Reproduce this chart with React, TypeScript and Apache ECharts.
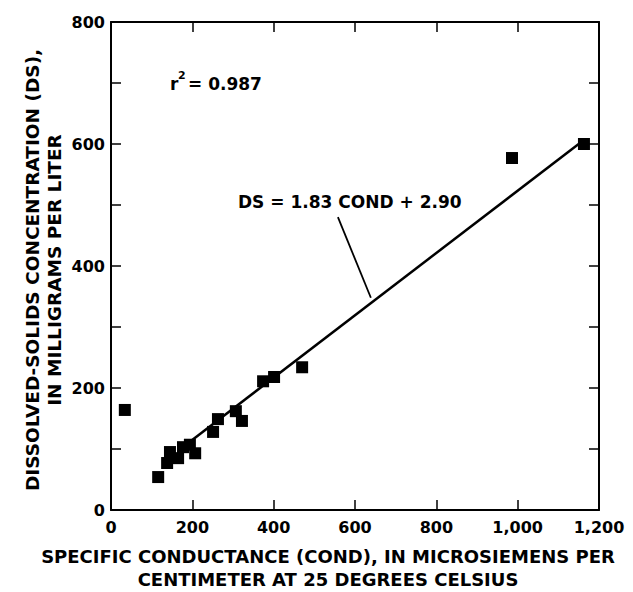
import React, { useEffect, useRef } from 'react';
import * as echarts from 'echarts';

// Specific conductance (COND, µS/cm) and dissolved-solids (DS, mg/L) samples
const condValues = [34, 116, 138, 145, 165, 177, 194, 207, 251, 263, 307, 322, 374, 401, 470, 986, 1163];
const dsValues = [164, 54, 77, 95, 85, 103, 107, 93, 128, 149, 162, 146, 211, 218, 234, 577, 600];

// Regression line end points (as drawn)
const fitCond = [194, 1150];
const fitDs = [112, 600];

// Leader line from the equation label to the regression line
const leaderCond = [558, 639];
const leaderDs = [480, 348];

const xTickValues = [0, 200, 400, 600, 800, 1000, 1200];
const xTickLabels = ['0', '200', '400', '600', '800', '1,000', '1,200'];
const yTickValues = [0, 200, 400, 600, 800];
const yTickLabels = ['0', '200', '400', '600', '800'];

const FONT = '"DejaVu Sans", sans-serif';

export default function App() {
  const ref = useRef<HTMLDivElement>(null);

  useEffect(() => {
    if (!ref.current) return;
    const chart = echarts.init(ref.current, undefined, { renderer: 'svg' });

    const axisLine = { show: true, onZero: false, lineStyle: { color: '#000', width: 2 } };
    const axisTick = { show: true, inside: true, length: 10, lineStyle: { color: '#000', width: 1.5 } };
    const labelStyle = { color: '#000', fontSize: 16, fontWeight: 'bold' as const, fontFamily: FONT };

    const xLabel = (v: number) => {
      const i = xTickValues.indexOf(v);
      return i >= 0 ? xTickLabels[i] : '';
    };
    const yLabel = (v: number) => {
      const i = yTickValues.indexOf(v);
      return i >= 0 ? yTickLabels[i] : '';
    };

    chart.setOption({
      animation: false,
      backgroundColor: '#fff',
      grid: { left: 111, right: 34, top: 22, bottom: 82, containLabel: false },
      xAxis: [
        {
          type: 'value', position: 'bottom', min: 0, max: 1200, interval: 200,
          axisLine, axisTick, splitLine: { show: false },
          axisLabel: { ...labelStyle, margin: 9, formatter: xLabel, showMinLabel: true, showMaxLabel: true },
        },
        {
          type: 'value', position: 'top', min: 0, max: 1200, interval: 200,
          axisLine, axisTick, splitLine: { show: false }, axisLabel: { show: false },
        },
      ],
      yAxis: [
        {
          type: 'value', position: 'left', min: 0, max: 800, interval: 100,
          axisLine, axisTick, splitLine: { show: false },
          axisLabel: { ...labelStyle, margin: 6, formatter: yLabel },
        },
        {
          type: 'value', position: 'right', min: 0, max: 800, interval: 100,
          axisLine, axisTick, splitLine: { show: false }, axisLabel: { show: false },
        },
      ],
      series: [
        {
          type: 'line',
          data: fitCond.map((c, i) => [c, fitDs[i]]),
          symbol: 'none',
          lineStyle: { color: '#000', width: 2.5 },
          silent: true,
          z: 2,
        },
        {
          type: 'line',
          data: leaderCond.map((c, i) => [c, leaderDs[i]]),
          symbol: 'none',
          lineStyle: { color: '#000', width: 1.8 },
          silent: true,
          z: 2,
        },
        {
          type: 'scatter',
          data: condValues.map((c, i) => [c, dsValues[i]]),
          symbol: 'rect',
          symbolSize: 12,
          itemStyle: { color: '#000', opacity: 1 },
          z: 3,
        },
      ],
      graphic: [
        { type: 'text', x: 170, y: 84, style: { text: 'r', font: `bold 17px ${FONT}`, fill: '#000', verticalAlign: 'middle' } },
        { type: 'text', x: 178, y: 75, style: { text: '2', font: `bold 11px ${FONT}`, fill: '#000', verticalAlign: 'middle' } },
        { type: 'text', x: 188, y: 84, style: { text: '= 0.987', font: `bold 17px ${FONT}`, fill: '#000', verticalAlign: 'middle' } },
        { type: 'text', x: 238, y: 202, style: { text: 'DS = 1.83 COND + 2.90', font: `bold 17px ${FONT}`, fill: '#000', verticalAlign: 'middle' } },
        {
          type: 'text', x: 328, y: 556,
          style: { text: 'SPECIFIC CONDUCTANCE (COND), IN MICROSIEMENS PER', font: `bold 18px ${FONT}`, fill: '#000', align: 'center', verticalAlign: 'middle' },
        },
        {
          type: 'text', x: 328, y: 579,
          style: { text: 'CENTIMETER AT 25 DEGREES CELSIUS', font: `bold 18px ${FONT}`, fill: '#000', align: 'center', verticalAlign: 'middle' },
        },
        {
          type: 'text', x: 32, y: 270, rotation: Math.PI / 2,
          style: { text: 'DISSOLVED-SOLIDS CONCENTRATION (DS),', font: `bold 18.5px ${FONT}`, fill: '#000', align: 'center', verticalAlign: 'middle' },
        },
        {
          type: 'text', x: 54, y: 270, rotation: Math.PI / 2,
          style: { text: 'IN MILLIGRAMS PER LITER', font: `bold 18.5px ${FONT}`, fill: '#000', align: 'center', verticalAlign: 'middle' },
        },
      ],
    });

    return () => chart.dispose();
  }, []);

  return <div ref={ref} style={{ position: 'fixed', left: 0, top: 0, width: 633, height: 592 }} />;
}
